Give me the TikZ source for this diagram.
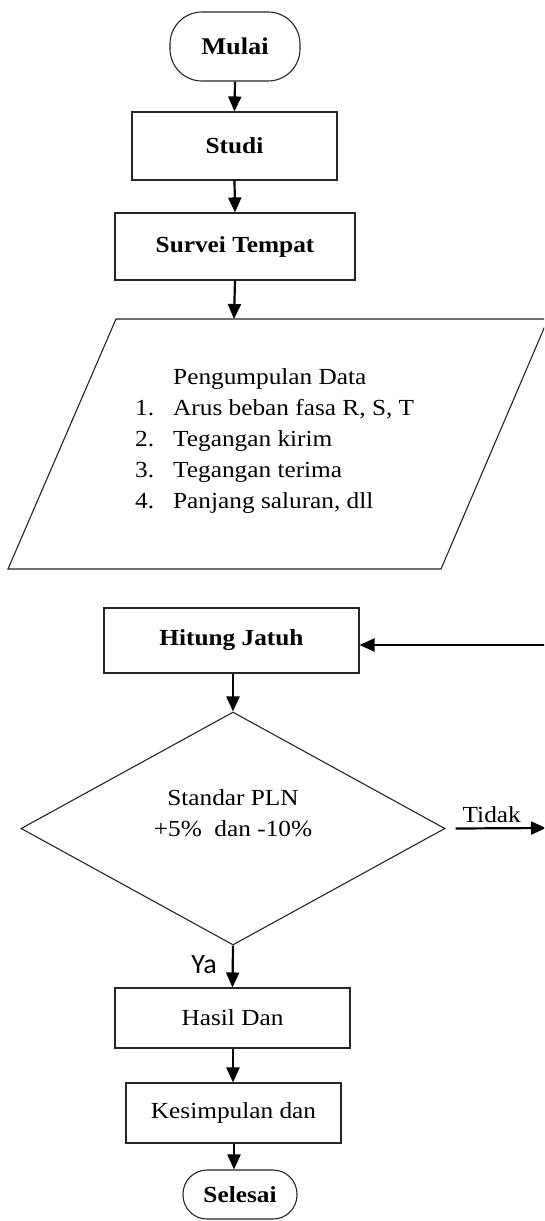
\documentclass[tikz,border=0pt]{standalone}
\usepackage{fontspec}
\setmainfont{Liberation Serif}[FakeStretch=1.1]
\newfontfamily\yafont{Carlito}
\usetikzlibrary{shapes.geometric,arrows.meta}
\begin{document}
\begin{tikzpicture}[x=1pt,y=-1pt,
  every node/.style={font=\fontsize{23}{31}\selectfont},
  box/.style={draw=black!85, line width=1.1pt, rectangle, inner sep=0pt, align=center},
  term/.style={box, rounded corners=#1},
  dec/.style={draw=black!85, line width=1.1pt, diamond, inner sep=0pt},
  arr/.style={-{Triangle[length=15pt,width=13pt]}, line width=2.2pt},
  lbl/.style={inner sep=0pt}]
\clip (0,0) rectangle (544,1221);
\fill[white] (0,0) rectangle (544,1221);

% nodes
\node[term=32pt, minimum width=130pt, minimum height=69pt, font=\fontsize{24}{31}\selectfont\bfseries] (mulai) at (235,46.5) {Mulai};
\node[box, minimum width=205pt, minimum height=68pt, font=\fontsize{23}{31}\selectfont\bfseries] (studi) at (234.5,146) {Studi};
\node[box, minimum width=240pt, minimum height=67pt, font=\fontsize{23}{31}\selectfont\bfseries] (survei) at (235,246.5) {Survei Tempat};

% data parallelogram
\coordinate (dtl) at (116,319);
\coordinate (dtr) at (548,319);
\coordinate (dbr) at (441,569);
\coordinate (dbl) at (8,569);
\coordinate (datatop) at (234,319);
\draw[line width=1.1pt, draw=black!85] (dtl) -- (dtr) -- (dbr) -- (dbl) -- cycle;
\node[lbl, anchor=west] (data) at (135,440) {\begin{tabular}{@{}p{38pt}@{}l@{}}
 & Pengumpulan Data\\
1. & Arus beban fasa R, S, T\\
2. & Tegangan kirim\\
3. & Tegangan terima\\
4. & Panjang saluran, dll
\end{tabular}};

\node[box, minimum width=255pt, minimum height=65pt, font=\fontsize{23}{31}\selectfont\bfseries] (hitung) at (231.5,640.5) {Hitung Jatuh};
\node[dec, minimum width=424pt, minimum height=233pt] (cek) at (233,828.5) {};
\node[lbl, align=center] (cektext) at (233,813) {Standar PLN\\+5\%\ \ dan -10\%};

\node[box, minimum width=235pt, minimum height=60pt] (hasil) at (232.5,1018) {Hasil Dan};
\node[box, minimum width=215pt, minimum height=60pt] (kes) at (233.5,1113) {Kesimpulan dan};
\node[term=24pt, minimum width=114pt, minimum height=49pt, font=\fontsize{23}{31}\selectfont\bfseries] (selesai) at (240,1194.5) {Selesai};

\coordinate (fbin) at (546,645);
\coordinate (fbout) at (546,828);

% connectors
\draw[arr] (mulai.south) -- (studi.north);
\draw[arr] (studi.south) -- (survei.north);
\draw[arr] (survei.south) -- (datatop);
\draw[arr] (hitung.south -| cek.north) -- (cek.north);
\draw[arr] (fbin) -- (fbin -| hitung.east);
\draw[arr] ([xshift=10pt]cek.east) -- node[above=4pt, lbl, pos=0.4] (tidak) {Tidak} (fbout);
\draw[arr] (cek.south) -- node[left=15pt, lbl, pos=0.45, font=\fontsize{28}{32}\selectfont\yafont] (ya) {Ya} (hasil.north);
\draw[arr] (hasil.south -| cek.south) -- (kes.north -| cek.south);
\draw[arr] (kes.south -| 234,0) -- (selesai.north -| 234,0);
\end{tikzpicture}
\end{document}
